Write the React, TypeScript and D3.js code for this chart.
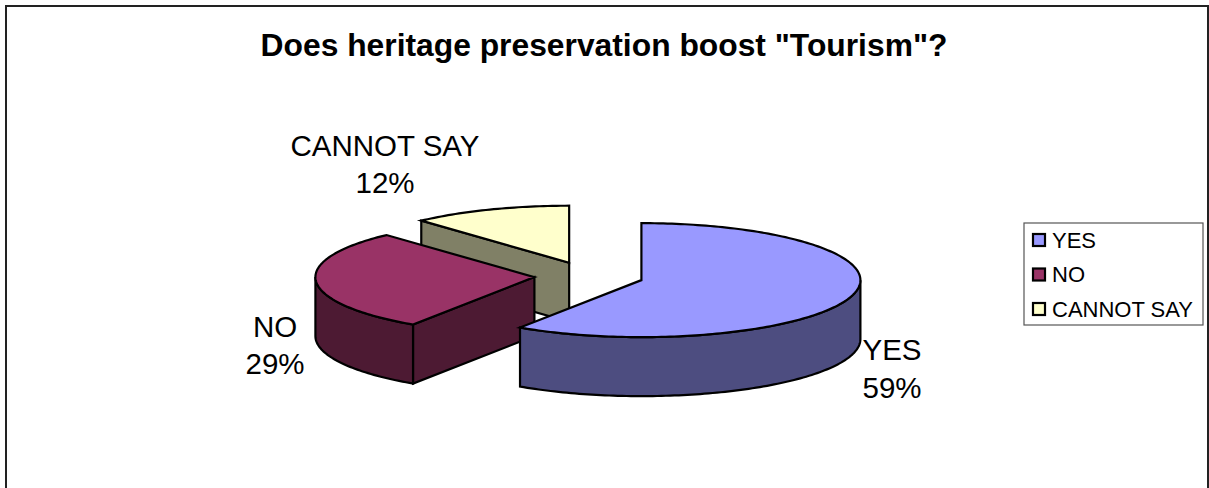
import React, { useEffect, useRef } from 'react';
import * as d3 from 'd3';

const categories = ['YES', 'NO', 'CANNOT SAY'];
const values = [59.35, 28.85, 11.8];
const topColors = ['#9999ff', '#993366', '#ffffcc'];
const sideColors = ['#4d4d80', '#4d1a33', '#808066'];
const titleText = 'Does heritage preservation boost "Tourism"?';

// label anchors, as [x, y of first line] per category
const labelPos: Record<string, [number, number]> = {
  YES: [892, 360],
  NO: [275, 336.5],
  'CANNOT SAY': [385, 155.5],
};

const App: React.FC = () => {
  const svgRef = useRef<SVGSVGElement>(null);

  useEffect(() => {
    if (!svgRef.current) return;
    const svg = d3.select(svgRef.current);
    svg.selectAll('*').remove();

    const font = '"Liberation Sans", Arial, sans-serif';

    // chart frame (bottom edge falls off the picture)
    svg.append('rect')
      .attr('x', 6).attr('y', 6)
      .attr('width', 1202).attr('height', 500)
      .attr('fill', '#fff').attr('stroke', '#222').attr('stroke-width', 2);

    svg.append('text')
      .attr('x', 604).attr('y', 55.5)
      .attr('text-anchor', 'middle')
      .style('font-family', font).style('font-size', '31.8px').style('font-weight', 'bold')
      .text(titleText);

    // pie geometry
    const cx = 589, cy = 276, rx = 219, ry = 57, depth = 59, explode = 0.25;
    const arcs = d3.pie<number>().sort(null)(values);

    const pt = (a: number, r = 1): [number, number] => [rx * r * Math.sin(a), -ry * r * Math.cos(a)];
    const curve = d3.line();

    const sample = (a0: number, a1: number) => {
      const n = Math.max(2, Math.ceil(Math.abs(a1 - a0) / 0.02));
      return d3.range(n + 1).map(i => pt(a0 + ((a1 - a0) * i) / n));
    };

    const strokeStyle = (sel: any) =>
      sel.attr('stroke', '#000').attr('stroke-width', 2.2).attr('stroke-linejoin', 'miter');

    // back slice first, so the order is the reverse of the data
    [2, 1, 0].forEach(i => {
      const d = arcs[i];
      const mid = (d.startAngle + d.endAngle) / 2;
      const [ox, oy] = pt(mid, explode);
      const g = svg.append('g').attr('transform', `translate(${cx + ox},${cy + oy})`);

      // radial side facing the viewer
      const radial = (a: number) => {
        const p = pt(a);
        const quad: [number, number][] = [[0, 0], p, [p[0], p[1] + depth], [0, depth]];
        strokeStyle(g.append('path').attr('d', curve(quad) + 'Z').attr('fill', sideColors[i]));
      };
      if (i > 0) radial(d.startAngle);

      // outer wall, front half only
      const a0 = Math.max(d.startAngle, Math.PI / 2);
      const a1 = Math.min(d.endAngle, (3 * Math.PI) / 2);
      if (a1 > a0) {
        const upper = sample(a0, a1);
        const lower = upper.map(p => [p[0], p[1] + depth] as [number, number]).reverse();
        strokeStyle(g.append('path').attr('d', curve([...upper, ...lower]) + 'Z').attr('fill', sideColors[i]));
      }

      // top face
      const top: [number, number][] = [[0, 0], ...sample(d.startAngle, d.endAngle)];
      strokeStyle(g.append('path').attr('d', curve(top) + 'Z').attr('fill', topColors[i]));
    });

    // data labels
    categories.forEach((c, i) => {
      const [x, y] = labelPos[c];
      const t = svg.append('text')
        .attr('text-anchor', 'middle')
        .style('font-family', font).style('font-size', '29.5px');
      t.append('tspan').attr('x', x).attr('y', y).text(c);
      t.append('tspan').attr('x', x).attr('y', y + 37.5).text(`${Math.round(values[i])}%`);
    });

    // legend
    const legendY = d3.scalePoint<string>().domain(categories).range([240, 309]);
    svg.append('rect')
      .attr('x', 1024).attr('y', 223).attr('width', 179).attr('height', 102)
      .attr('fill', '#fff').attr('stroke', '#555').attr('stroke-width', 1.2);
    categories.forEach((c, i) => {
      const y = legendY(c)!;
      svg.append('rect')
        .attr('x', 1033).attr('y', y - 6).attr('width', 12).attr('height', 12)
        .attr('fill', topColors[i]).attr('stroke', '#000').attr('stroke-width', 2.2);
      svg.append('text')
        .attr('x', 1052).attr('y', y + 7.5)
        .style('font-family', font).style('font-size', '22px')
        .text(c);
    });
  }, []);

  return (
    <svg
      ref={svgRef}
      width={1209}
      height={488}
      style={{ position: 'absolute', left: 0, top: 0, background: '#fff' }}
    />
  );
};

export default App;
